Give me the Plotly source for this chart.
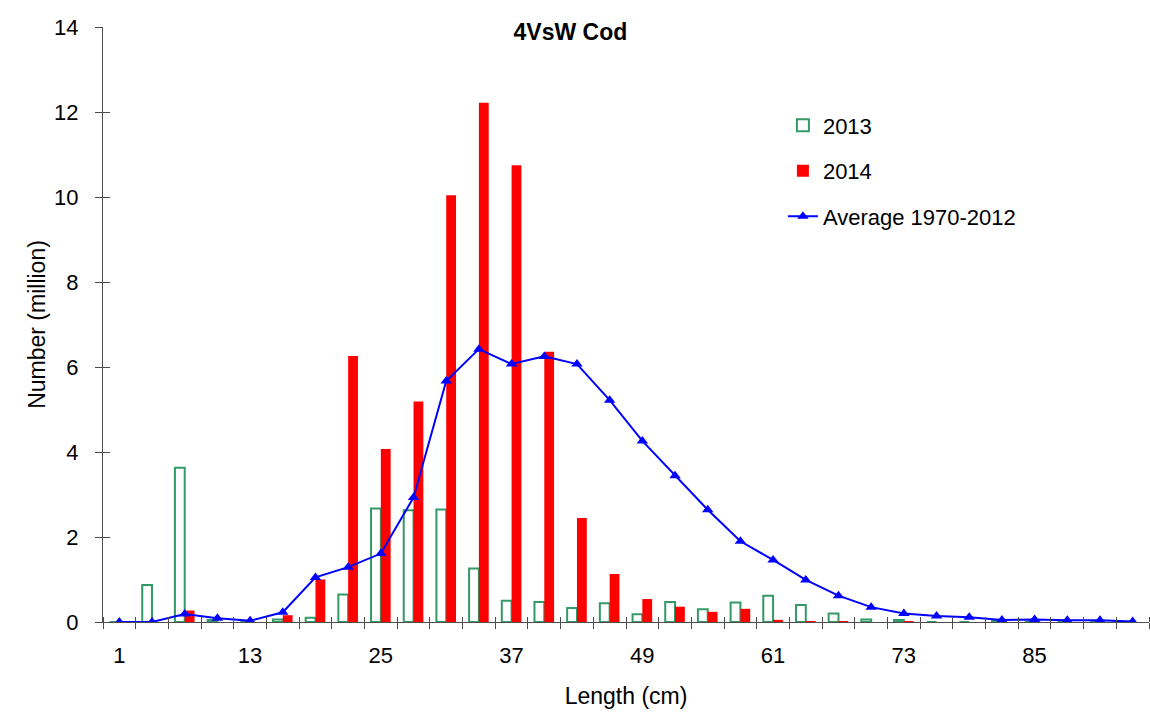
import plotly.graph_objects as go

# Length classes (cm)
lengths = [1, 4, 7, 10, 13, 16, 19, 22, 25, 28, 31, 34, 37, 40, 43, 46,
           49, 52, 55, 58, 61, 64, 67, 70, 73, 76, 79, 82, 85, 88, 91, 94]

# Numbers at length (million)
n2013 = [0, 0.87, 3.63, 0.05, 0, 0.06, 0.10, 0.65, 2.67, 2.63, 2.65, 1.26,
         0.50, 0.47, 0.33, 0.44, 0.18, 0.47, 0.30, 0.46, 0.62, 0.40, 0.20,
         0.06, 0.05, 0, 0, 0.03, 0, 0, 0, 0]
n2014 = [0, 0, 0.27, 0, 0, 0.16, 1.00, 6.26, 4.07, 5.19, 10.04, 12.22,
         10.75, 6.36, 2.45, 1.13, 0.54, 0.36, 0.24, 0.31, 0.05, 0.02, 0.02,
         0, 0.02, 0, 0, 0, 0, 0, 0, 0]
avg_1970_2012 = [0, 0, 0.19, 0.09, 0.03, 0.23, 1.05, 1.29, 1.61, 2.93, 5.67,
                 6.42, 6.07, 6.25, 6.07, 5.22, 4.26, 3.44, 2.64, 1.90, 1.46,
                 0.99, 0.62, 0.35, 0.20, 0.14, 0.11, 0.05, 0.06, 0.04, 0.04,
                 0.01]

tick_vals = [1, 13, 25, 37, 49, 61, 73, 85]
tick_text = [str(v) for v in tick_vals]

FONT = "Liberation Sans, Arial, sans-serif"
AXIS_COLOR = "#4d4d4d"
x_range = [-0.5, 95.5]

fig = go.Figure()

fig.add_trace(go.Bar(
    x=lengths, y=n2013, name="2013", legendgroup="a",
    marker=dict(color="white", line=dict(color="#339966", width=2)),
))
fig.add_trace(go.Bar(
    x=lengths, y=n2014, name="2014", legendgroup="b",
    marker=dict(color="#ff0000", line=dict(width=0)),
))
fig.add_trace(go.Scatter(
    x=lengths, y=avg_1970_2012, name="Average 1970-2012", legendgroup="c",
    mode="lines+markers",
    line=dict(color="#0000ff", width=2),
    marker=dict(symbol="triangle-up", size=10, color="#0000ff"),
))
# Empty trace carrying the overlay axes used for the inner half of the ticks
fig.add_trace(go.Scatter(
    x=[None], y=[None], xaxis="x2", yaxis="y2",
    showlegend=False, hoverinfo="skip",
))

fig.update_layout(
    width=1150, height=712,
    margin=dict(l=103, r=1, t=27, b=90),
    paper_bgcolor="white", plot_bgcolor="white",
    font=dict(family=FONT, color="black", size=22),
    barmode="group", bargap=0.4, bargroupgap=0,
    title=dict(text="<b>4VsW Cod</b>", x=0.496, xref="container",
               y=1 - 32 / 712, yref="container", yanchor="middle",
               xanchor="center", font=dict(size=23, family=FONT)),
    xaxis=dict(
        range=x_range, tickmode="array", tickvals=tick_vals,
        ticktext=tick_text, ticks="", showgrid=False, zeroline=False,
        showline=True, linecolor=AXIS_COLOR, linewidth=1,
        tickfont=dict(size=22), ticklabelstandoff=14,
        minor=dict(ticks="outside", tick0=-0.5, dtick=3, ticklen=6,
                   tickcolor=AXIS_COLOR, tickwidth=1, showgrid=False),
        title=dict(text="Length (cm)", font=dict(size=23), standoff=20),
    ),
    yaxis=dict(
        range=[0, 14], dtick=2, ticks="outside", ticklen=7,
        tickcolor=AXIS_COLOR, showgrid=False, zeroline=False,
        showline=True, linecolor=AXIS_COLOR, linewidth=1,
        tickfont=dict(size=22), ticklabelstandoff=12,
        title=dict(text="Number (million)", font=dict(size=23), standoff=2),
    ),
    xaxis2=dict(
        overlaying="x", range=x_range, showticklabels=False, ticks="",
        showgrid=False, zeroline=False, showline=False,
        minor=dict(ticks="inside", tick0=-0.5, dtick=3, ticklen=5,
                   tickcolor=AXIS_COLOR, tickwidth=1, showgrid=False),
    ),
    yaxis2=dict(
        overlaying="y", range=[0, 14], dtick=2, showticklabels=False,
        ticks="inside", ticklen=7, tickcolor=AXIS_COLOR,
        showgrid=False, zeroline=False, showline=False,
    ),
    legend=dict(
        x=0.65, y=0.87, xanchor="left", yanchor="top",
        bgcolor="rgba(0,0,0,0)", font=dict(size=22),
        tracegroupgap=14, traceorder="grouped",
    ),
    showlegend=True,
)

fig.write_html("out.html")
